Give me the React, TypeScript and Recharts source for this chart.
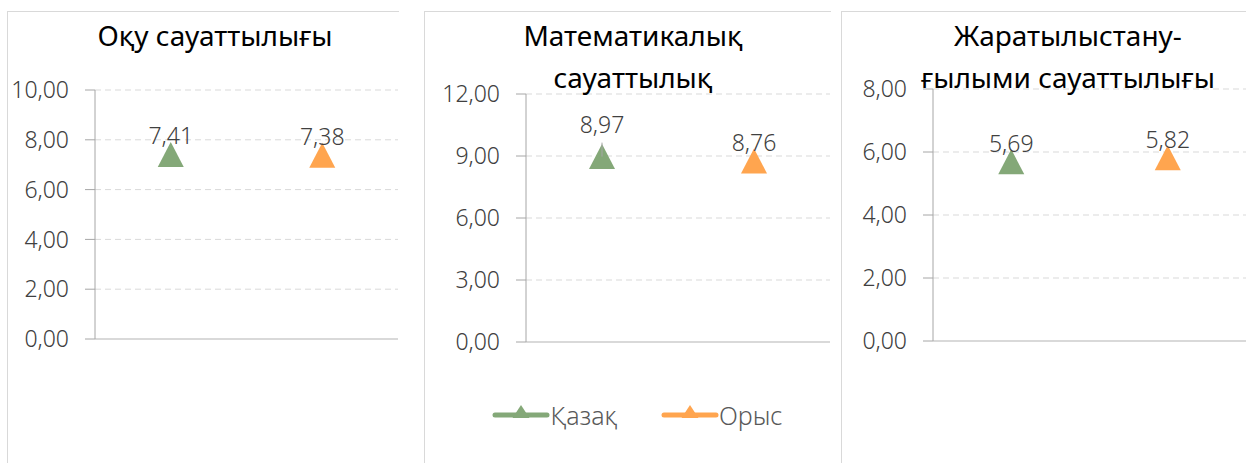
import { LineChart, Line, XAxis, YAxis, CartesianGrid } from 'recharts';

const categories = ['Қазақ', 'Орыс'];
const seriesNames = ['Қазақ', 'Орыс'];
const readingValues = [7.41, 7.38];
const mathValues = [8.97, 8.76];
const scienceValues = [5.69, 5.82];
const readingTicks = [0, 2, 4, 6, 8, 10];
const mathTicks = [0, 3, 6, 9, 12];
const scienceTicks = [0, 2, 4, 6, 8];

const GREEN = '#84A878';
const ORANGE = '#FFA54F';
const FONT = '"Noto Sans", "Open Sans", sans-serif';

const fmt = (v: number) => v.toFixed(2).replace('.', ',');

function buildRows(values: number[]) {
  return categories.map((c, i) => ({
    cat: c,
    kz: i === 0 ? values[0] : null,
    ru: i === 1 ? values[1] : null,
  }));
}

function Triangle(props: any) {
  const { cx, cy, fill } = props;
  if (cx == null || cy == null || props.value == null) return null;
  return (
    <polygon
      points={`${cx},${cy - 12.5} ${cx + 13},${cy + 12.5} ${cx - 13},${cy + 12.5}`}
      fill={fill}
    />
  );
}

function makeLabel(lift: number) {
  return (props: any) => {
    const { x, y, value } = props;
    if (value == null) return null;
    return (
      <g>
        {lift > 0 && <line x1={x} y1={y - 14} x2={x} y2={y} stroke="#a6a6a6" strokeWidth={1} />}
        <text
          x={x}
          y={y - 10 - lift}
          textAnchor="middle"
          fill="#404040"
          fontSize={23}
          fontWeight={300}
          fontFamily={FONT}
        >
          {fmt(value)}
        </text>
      </g>
    );
  };
}

function LegendBox() {
  const items = [
    { name: seriesNames[0], color: GREEN },
    { name: seriesNames[1], color: ORANGE },
  ];
  return (
    <div
      style={{
        position: 'absolute',
        left: 424,
        width: 427,
        top: 398,
        display: 'flex',
        justifyContent: 'center',
        gap: 44,
      }}
    >
      {items.map((it) => (
        <div key={it.name} style={{ display: 'flex', alignItems: 'center' }}>
          <svg width={58} height={34}>
            <line x1={3} y1={17} x2={55} y2={17} stroke={it.color} strokeWidth={5} strokeLinecap="round" />
            <polygon points="29,7 37.5,20 20.5,20" fill={it.color} />
          </svg>
          <span style={{ fontFamily: FONT, fontSize: 25, fontWeight: 300, color: '#595959', lineHeight: '34px' }}>{it.name}</span>
        </div>
      ))}
    </div>
  );
}

interface PanelProps {
  left: number;
  width: number;
  axisWidth: number;
  top: number;
  bottom: number;
  values: number[];
  ticks: number[];
  lifts: number[];
}

function Panel({ left, width, axisWidth, top, bottom, values, ticks, lifts }: PanelProps) {
  const rows = buildRows(values);
  const max = ticks[ticks.length - 1];
  return (
    <div style={{ position: 'absolute', left, top: 0 }}>
      <LineChart width={width} height={463} data={rows} margin={{ top, right: 0, left: 0, bottom }}>
        <CartesianGrid vertical={false} stroke="#d9d9d9" strokeDasharray="6 4" />
        <XAxis
          dataKey="cat"
          scale="band"
          tick={false}
          tickLine={false}
          height={1}
          axisLine={{ stroke: '#d9d9d9', strokeWidth: 2 }}
        />
        <YAxis
          width={axisWidth}
          domain={[0, max]}
          ticks={ticks}
          tickFormatter={fmt}
          tickSize={10}
          tickMargin={16}
          interval={0}
          axisLine={{ stroke: '#a6a6a6' }}
          tickLine={{ stroke: '#a6a6a6' }}
          tick={{ fill: '#404040', fontSize: 23, fontWeight: 300, fontFamily: FONT }}
        />
        <Line
          dataKey="kz"
          name={seriesNames[0]}
          stroke="none"
          fill={GREEN}
          dot={<Triangle fill={GREEN} />}
          activeDot={false}
          label={makeLabel(lifts[0])}
          isAnimationActive={false}
        />
        <Line
          dataKey="ru"
          name={seriesNames[1]}
          stroke="none"
          fill={ORANGE}
          dot={<Triangle fill={ORANGE} />}
          activeDot={false}
          label={makeLabel(lifts[1])}
          isAnimationActive={false}
        />
      </LineChart>
    </div>
  );
}

function Title({ center, lines }: { center: number; lines: string[] }) {
  return (
    <div
      style={{
        position: 'absolute',
        left: center - 200,
        width: 400,
        top: 14,
        textAlign: 'center',
        fontFamily: FONT,
        fontSize: 28,
        lineHeight: '42px',
        color: '#000',
      }}
    >
      {lines.map((l) => (
        <div key={l}>{l}</div>
      ))}
    </div>
  );
}

export default function App() {
  const border = '1px solid #d9d9d9';
  return (
    <div style={{ position: 'fixed', left: 0, top: 0, width: 1246, height: 463, background: '#fff', overflow: 'hidden' }}>
      <div style={{ position: 'absolute', left: 7, top: 11, width: 391, height: 470, borderLeft: border, borderTop: border }} />
      <div style={{ position: 'absolute', left: 424, top: 11, width: 406, height: 470, borderLeft: border, borderTop: border }} />
      <div style={{ position: 'absolute', left: 841, top: 11, width: 420, height: 470, borderLeft: border, borderTop: border }} />
      <Panel left={0} width={398} axisWidth={95} top={90} bottom={123} values={readingValues} ticks={readingTicks} lifts={[0, 0]} />
      <Panel left={424} width={406} axisWidth={102} top={94} bottom={120} values={mathValues} ticks={mathTicks} lifts={[14, 0]} />
      <Panel left={841} width={405} axisWidth={92} top={89} bottom={121} values={scienceValues} ticks={scienceTicks} lifts={[0, 0]} />
      <Title center={215} lines={['Оқу сауаттылығы']} />
      <Title center={633} lines={['Математикалық', 'сауаттылық']} />
      <Title center={1068} lines={['Жаратылыстану-', 'ғылыми сауаттылығы']} />
      <LegendBox />
    </div>
  );
}
